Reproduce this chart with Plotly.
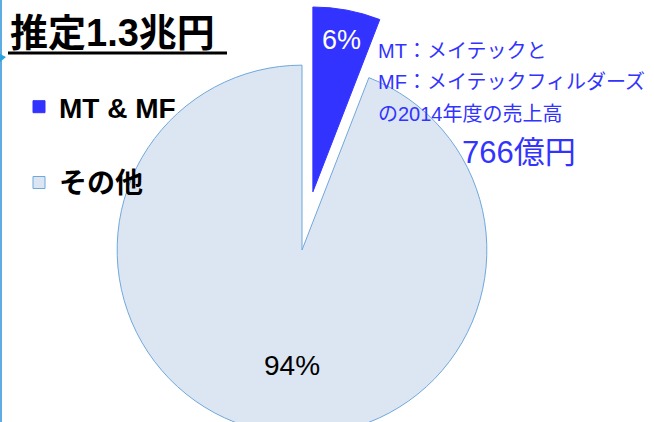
import plotly.graph_objects as go

# ---- data ----
categories = ["MT & MF", "その他"]
values_oku = [766, 12234]          # 億円 (total ≈ 1.3兆円)
slice_colors = ["#3333FF", "#DCE6F2"]
line_colors = ["#3333FF", "#6FA8DC"]
pulls = [0.32, 0]
title_text = "推定1.3兆円"
note_lines = ["MT：メイテックと", "MF：メイテックフィルダーズ", "の2014年度の売上高"]
note_amount = "766億円"

total = sum(values_oku)
pct_text = [f"{round(v / total * 100)}%" for v in values_oku]

W, H = 654, 500
MT, MB = 6, 6
PH = H - MT - MB
FONT = "Liberation Sans, Noto Sans CJK JP, sans-serif"
BLUE = "#3333FF"


def px(x):
    return x / W


def py(y):
    return 1 - (y - MT) / PH


fig = go.Figure(
    go.Pie(
        labels=[c + "<br> " for c in categories],
        values=values_oku,
        sort=False,
        direction="clockwise",
        rotation=0,
        pull=pulls,
        marker=dict(colors=slice_colors, line=dict(color=line_colors, width=1)),
        textinfo="none",
        hoverinfo="skip",
        domain=dict(x=[57.8 / W, 546.2 / W], y=[0, 1]),
    )
)

ann = []
ann.append(dict(x=px(8), y=py(33), text=f"<b>{title_text}</b>", xanchor="left", yanchor="middle",
                font=dict(size=38, color="black", family=FONT)))
ann.append(dict(x=px(341), y=py(40), text=pct_text[0], xanchor="center", yanchor="middle",
                font=dict(size=27, color="white", family=FONT)))
ann.append(dict(x=px(292), y=py(365), text=pct_text[1], xanchor="center", yanchor="middle",
                font=dict(size=28, color="black", family=FONT)))
for i, (line, yy) in enumerate(zip(note_lines, [51, 82, 114])):
    ann.append(dict(x=px(376), y=py(yy), text=line, xanchor="left", yanchor="middle",
                    font=dict(size=20, color=BLUE, family=FONT)))
ann.append(dict(x=px(519), y=py(152), text=note_amount, xanchor="center", yanchor="middle",
                font=dict(size=31, color=BLUE, family=FONT)))
for a in ann:
    a.update(xref="paper", yref="paper", showarrow=False)

shapes = [
    dict(type="line", xref="paper", yref="paper", x0=px(8), x1=px(227), y0=py(53), y1=py(53),
         line=dict(color="black", width=3)),
    dict(type="line", xref="paper", yref="paper", x0=px(1), x1=px(1), y0=py(0), y1=py(500),
         line=dict(color="#5DADE2", width=2)),
    dict(type="path", xref="paper", yref="paper",
         path=f"M {px(0)} {py(54)} L {px(6)} {py(57)} L {px(0)} {py(62)} Z",
         fillcolor="#29A3E0", line=dict(width=0)),
]

fig.update_layout(
    width=W, height=H,
    margin=dict(l=0, r=0, t=MT, b=MB),
    paper_bgcolor="white", plot_bgcolor="white",
    showlegend=True,
    legend=dict(x=px(19), y=py(82), xanchor="left", yanchor="top", valign="top",
                font=dict(size=28, color="black", family=FONT, weight="bold"),
                bgcolor="rgba(0,0,0,0)", traceorder="normal"),
    annotations=ann,
    shapes=shapes,
)

fig.write_html("out.html",
               config={"displayModeBar": False},
               post_script="document.body.style.margin='0';document.body.style.overflow='hidden';")
